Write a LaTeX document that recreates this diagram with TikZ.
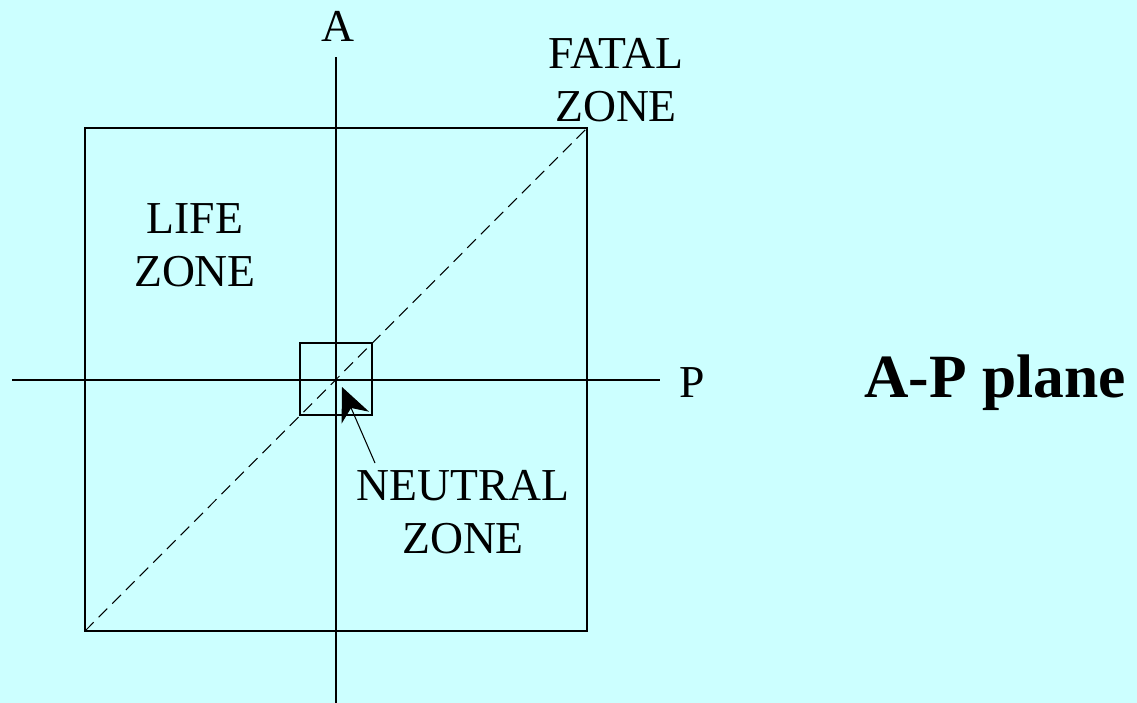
\documentclass[tikz,border=0pt]{standalone}
\usepackage{fontspec}
\setmainfont{Liberation Serif}
\usepackage{xcolor}
\usetikzlibrary{arrows.meta}
\definecolor{slidebg}{RGB}{204,255,255}
\newcommand{\zonefont}{\fontsize{26}{30}\selectfont}

\begin{document}
\begin{tikzpicture}[
  x=0.02cm, y=-0.02cm, >=Stealth,
  thinline/.style={line width=0.6pt, black},
  zlabel/.style={font=\zonefont, align=center, inner sep=0pt},
  axlabel/.style={font=\zonefont, inner sep=0pt}]
% background
\fill[slidebg] (0,0) rectangle (1137,703);
\useasboundingbox (0,0) rectangle (1137,703);
% axes
\coordinate (atop) at (336,57);
\coordinate (abot) at (336,703);
\coordinate (pleft) at (12,380);
\coordinate (pright) at (660,380);
\draw[thinline] (atop) -- (abot);
\draw[thinline] (pleft) -- (pright);
\node[axlabel] (alab) at (338,26) {A};
\node[axlabel] (plab) at (692,383) {P};
% zones
\draw[thinline] (85,128) rectangle (587,631);
\draw[thinline] (300,343) rectangle (372,415);
\coordinate (ll) at (85,631);
\coordinate (ur) at (587,128);
\draw[thinline, dashed, dash pattern=on 7pt off 4pt] (ll) -- (ur);
\node[zlabel] (fatal) at (616,80) {FATAL\\ZONE};
\node[zlabel] (life) at (195,245) {LIFE\\ZONE};
\node[zlabel] (neutral) at (463,512) {NEUTRAL\\ZONE};
% pointer
\coordinate (tail) at (375,463);
\coordinate (tip) at (342,387);
\draw[thinline, -{Stealth[length=19pt,width=17pt,inset=6pt]}] (tail) -- (tip);
\node[font=\fontsize{35}{40}\selectfont\bfseries, inner sep=0pt] (title) at (995,383) {A-P plane};
\end{tikzpicture}
\end{document}
